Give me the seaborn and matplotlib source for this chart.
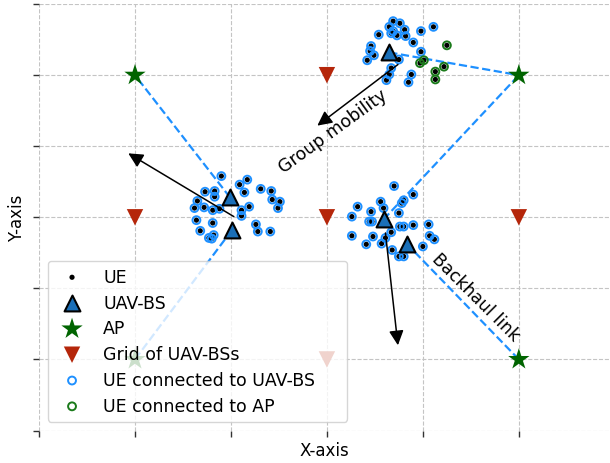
import matplotlib
matplotlib.use('Agg')
import matplotlib.pyplot as plt
import seaborn as sns

# UEs served by a UAV-BS (grid units)
ue_uav_x = [1.90, 2.09, 2.17, 2.14, 2.31, 2.42, 2.43, 2.51, 2.49, 1.73, 1.83, 1.83,
            1.65, 1.62, 1.72, 1.81, 1.88, 2.19, 2.11, 2.11, 1.64, 1.81, 2.26, 1.68,
            1.82, 1.77, 1.80, 2.28, 2.41,
            3.70, 3.90, 3.78, 3.80, 3.56, 3.59, 3.32, 3.46, 3.75, 3.26, 3.44, 3.47,
            3.76, 3.80, 3.90, 4.06, 3.67, 4.07, 4.12, 3.26, 3.48, 3.61, 3.41, 3.57,
            3.68, 3.75, 3.80, 4.00,
            3.69, 3.76, 3.65, 3.81, 3.67, 3.69, 3.73, 3.82, 3.54, 3.90, 3.98, 4.11,
            3.46, 3.45, 3.49, 3.42, 3.98, 3.75, 3.67, 3.65, 3.62, 3.88, 3.85]
ue_uav_y = [3.58, 3.46, 3.53, 3.35, 3.40, 3.37, 3.25, 3.22, 3.13, 3.36, 3.37, 3.29,
            3.23, 3.13, 3.14, 3.10, 3.12, 3.15, 3.10, 3.02, 2.96, 2.92, 2.90, 2.81,
            2.75, 2.71, 2.70, 2.80, 2.80,
            3.44, 3.32, 3.20, 3.24, 3.22, 3.13, 3.15, 3.08, 3.06, 3.01, 2.94, 2.94,
            2.87, 2.87, 2.89, 2.90, 2.79, 2.74, 2.69, 2.74, 2.73, 2.71, 2.62, 2.63,
            2.54, 2.45, 2.45, 2.59,
            5.76, 5.73, 5.68, 5.64, 5.59, 5.62, 5.56, 5.55, 5.57, 5.46, 5.62, 5.68,
            5.41, 5.34, 5.28, 5.21, 5.33, 5.22, 5.10, 5.01, 4.93, 5.01, 4.90]

# UEs served directly by an AP
ue_ap_x = [4.25, 3.97, 4.01, 4.13, 4.22, 4.13]
ue_ap_y = [5.42, 5.17, 5.21, 5.05, 5.12, 4.94]

ue_x = ue_uav_x + ue_ap_x
ue_y = ue_uav_y + ue_ap_y

uav_x = [1.99, 2.01, 3.65, 3.59, 3.83]
uav_y = [3.28, 2.82, 5.32, 2.97, 2.63]

ap_x = [1, 5, 5, 1]
ap_y = [5, 5, 1, 1]

grid_x = [1, 3, 5, 3, 3]
grid_y = [3, 3, 3, 5, 1]

# backhaul: UAV-BS index -> AP index
links = [(0, 0), (1, 3), (2, 1), (3, 1), (4, 2)]

# group mobility arrows (tail -> head)
arrow_tail_x = [2.03, 3.61, 3.74]
arrow_tail_y = [3.01, 2.78, 5.15]
arrow_head_x = [0.93, 3.74, 2.90]
arrow_head_y = [3.90, 1.20, 4.29]

sns.set_style('whitegrid', {'grid.linestyle': '--', 'grid.color': '#c4c4c4',
                            'text.color': 'black', 'axes.labelcolor': 'black'})

fig = plt.figure(figsize=(6.1, 4.64), dpi=100)
ax = fig.add_axes([0.064, 0.070, 0.936, 0.919])

for u, a in links:
    ax.plot([uav_x[u], ap_x[a]], [uav_y[u], ap_y[a]], linestyle='--',
            color='#1e90ff', linewidth=1.6, zorder=2)

for tx, ty, hx, hy in zip(arrow_tail_x, arrow_tail_y, arrow_head_x, arrow_head_y):
    ax.annotate('', xy=(hx, hy), xytext=(tx, ty),
                arrowprops=dict(arrowstyle='-|>', color='black', lw=1.1,
                                mutation_scale=22, shrinkA=0, shrinkB=0),
                zorder=5)

sns.scatterplot(x=ue_x, y=ue_y, color='black', s=14, edgecolor='none',
                label='UE', ax=ax, zorder=3)
sns.scatterplot(x=uav_x, y=uav_y, marker='^', color='#1a6fb8', s=130,
                edgecolor='black', linewidth=1.5, label='UAV-BS', ax=ax, zorder=4)
sns.scatterplot(x=ap_x, y=ap_y, marker='*', color='#006400', s=260,
                edgecolor='none', label='AP', ax=ax, zorder=4)
sns.scatterplot(x=grid_x, y=grid_y, marker='v', color='#b5260a', s=140,
                edgecolor='none', label='Grid of UAV-BSs', ax=ax, zorder=4)
sns.scatterplot(x=ue_uav_x, y=ue_uav_y, marker='o', facecolors='none',
                edgecolor='#1e90ff', s=32, linewidth=1.4,
                label='UE connected to UAV-BS', ax=ax, zorder=3)
sns.scatterplot(x=ue_ap_x, y=ue_ap_y, marker='o', facecolors='none',
                edgecolor='#1a7a1a', s=32, linewidth=1.4,
                label='UE connected to AP', ax=ax, zorder=3)

ax.text(3.06, 4.22, 'Group mobility', rotation=36, ha='center', va='center',
        fontsize=12.5, color='black')
ax.text(4.55, 1.89, 'Backhaul link', rotation=-45, ha='center', va='center',
        fontsize=12.5, color='black')

ax.set_xlim(0, 5.95)
ax.set_ylim(0, 6)
ax.set_xticks(range(6))
ax.set_yticks(range(7))
ax.set_xticklabels([])
ax.set_yticklabels([])
ax.tick_params(bottom=True, left=True, length=4, width=1, color='#333333')
for spine in ax.spines.values():
    spine.set_visible(False)

ax.set_xlabel('X-axis', fontsize=12, labelpad=0)
ax.set_ylabel('Y-axis', fontsize=12, labelpad=2)
leg = ax.legend(loc='lower left', bbox_to_anchor=(0, 0, 0.555, 1), mode='expand',
                fontsize=12.5, labelspacing=0.45)
for t in leg.get_texts():
    t.set_color('black')

fig.savefig('out.png', dpi=100)
